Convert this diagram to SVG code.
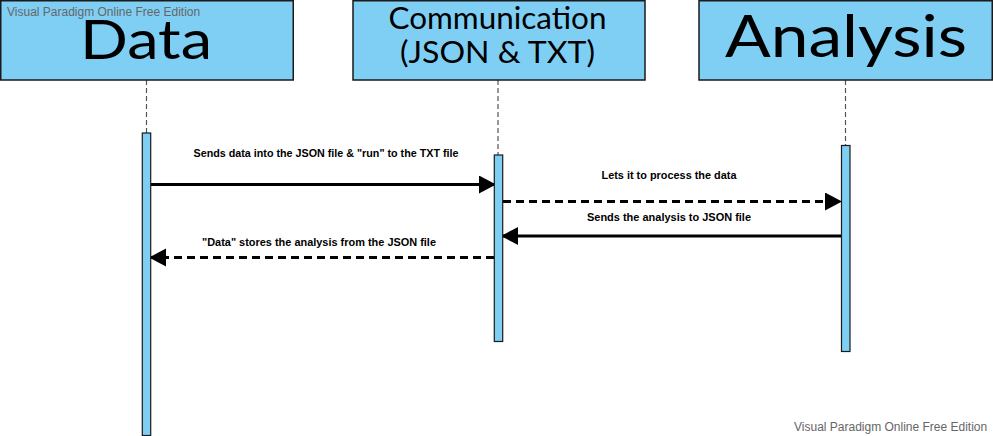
<svg xmlns="http://www.w3.org/2000/svg" width="993" height="436" viewBox="0 0 993 436">
<style>
.box{fill:#7FCFF5;stroke:#1a1a1a;stroke-width:1.5}
.act{fill:#7FCFF5;stroke:#1a1a1a;stroke-width:1.2}
.life{stroke:#555;stroke-width:1.2;stroke-dasharray:5 3;fill:none}
.title{font-family:Lato,"Noto Sans",sans-serif;fill:#000;text-anchor:middle}
.msg{stroke:#000;stroke-width:3;fill:none}
.dash{stroke-dasharray:8 5}
.lbl{font-family:"Liberation Sans",Arial,sans-serif;font-weight:bold;font-size:10.5px;fill:#000;text-anchor:middle}
.wm{font-family:"Liberation Sans",Arial,sans-serif;font-size:12px;fill:#666}
</style>
<defs>
<marker id="ah" markerUnits="userSpaceOnUse" markerWidth="18" markerHeight="20" refX="17" refY="9" orient="auto">
<path d="M0,0 L17,9 L0,18 Z" fill="#000"/>
</marker>
</defs>
<g id="connectors">
<line class="life" x1="146.5" y1="80" x2="146.5" y2="133"/>
<line class="life" x1="498" y1="80" x2="498" y2="155"/>
<line class="life" x1="845.5" y1="80" x2="845.5" y2="145"/>
<line class="msg" x1="151" y1="184.5" x2="496" y2="184.5" marker-end="url(#ah)"/>
<line class="msg dash" x1="503" y1="201.5" x2="842" y2="201.5" marker-end="url(#ah)"/>
<line class="msg" x1="841" y1="236" x2="501" y2="236" marker-end="url(#ah)"/>
<line class="msg dash" x1="494" y1="257.5" x2="149" y2="257.5" marker-end="url(#ah)"/>
<text class="lbl" x="326" y="157" textLength="265" lengthAdjust="spacingAndGlyphs">Sends data into the JSON file &amp; "run" to the TXT file</text>
<text class="lbl" x="669" y="179" textLength="135" lengthAdjust="spacingAndGlyphs">Lets it to process the data</text>
<text class="lbl" x="669" y="221" textLength="164" lengthAdjust="spacingAndGlyphs">Sends the analysis to JSON file</text>
<text class="lbl" x="319" y="246" textLength="234" lengthAdjust="spacingAndGlyphs">"Data" stores the analysis from the JSON file</text>
</g>
<g id="node-data">
<rect class="box" x="0.75" y="0.75" width="292.5" height="79.25"/>
<text class="title" x="146" y="59" font-size="54" textLength="132" lengthAdjust="spacingAndGlyphs">Data</text>
<rect class="act" x="142.3" y="133" width="8.4" height="302.5"/>
</g>
<g id="node-communication">
<rect class="box" x="353" y="0.75" width="292" height="79.25"/>
<text class="title" x="497.5" y="29" font-size="30" textLength="218" lengthAdjust="spacingAndGlyphs">Communication</text>
<text class="title" x="497.5" y="63" font-size="30" textLength="195" lengthAdjust="spacingAndGlyphs">(JSON &amp; TXT)</text>
<rect class="act" x="494.3" y="155" width="8.4" height="186.5"/>
</g>
<g id="node-analysis">
<rect class="box" x="699" y="0.75" width="293.25" height="79.25"/>
<text class="title" x="846" y="57" font-size="58" textLength="242" lengthAdjust="spacingAndGlyphs">Analysis</text>
<rect class="act" x="841.5" y="145.5" width="8.5" height="206"/>
</g>
<text class="wm" x="7" y="16">Visual Paradigm Online Free Edition</text>
<text class="wm" x="794" y="431">Visual Paradigm Online Free Edition</text>
</svg>
